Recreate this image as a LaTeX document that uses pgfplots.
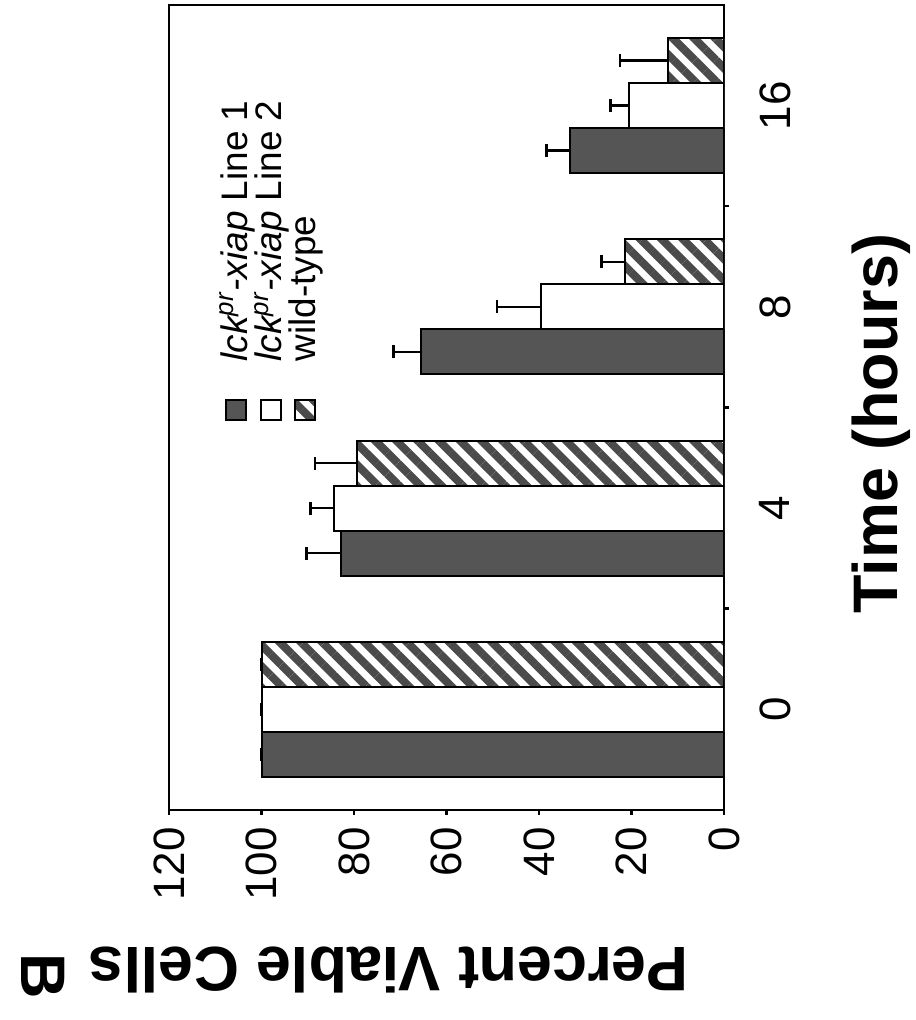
\documentclass[border=0pt]{standalone}
\usepackage{fontspec}
\setmainfont{Liberation Sans}
\usepackage{pgfplots}
\pgfplotsset{compat=1.18}
\usetikzlibrary{patterns.meta}
\definecolor{darkbar}{RGB}{85,85,85}
\definecolor{hatchc}{RGB}{75,75,75}
\pgfplotsset{sqlegend/.style={legend image code/.code={\draw[##1, line width=0.2mm] (0mm,-1mm) rectangle (2mm,1mm); \path (5.8mm,0);}}}
\begin{document}
\begin{tikzpicture}[rotate=90, transform shape]
\useasboundingbox (-21mm,-19.2mm) rectangle (81mm,72.4mm);
\begin{axis}[
  scale only axis, width=80.5mm, height=55.5mm,
  at={(0,0)}, anchor=south west,
  clip mode=individual,
  xmin=-0.5, xmax=3.5, ymin=0, ymax=120,
  ytick={0,20,...,120},
  xtick={0.5,1.5,2.5}, xticklabels={},
  extra x ticks={0,1,2,3}, extra x tick labels={0,4,8,16},
  extra x tick style={major tick length=0pt},
  tick align=outside, tick pos=left, major tick length=0.5mm,
  axis line style={line width=0.25mm},
  tick style={line width=0.25mm, black},
  /pgf/number format/assume math mode=true,
  tick label style={font=\fontsize{12.5}{14}\selectfont},
  xticklabel style={yshift=-2.3mm},
  ybar=0pt, bar width=4.5mm,
  xlabel={Time (hours)}, ylabel={Percent Viable Cells},
  label style={font=\bfseries\fontsize{17.9}{20}\selectfont},
  xlabel style={at={(axis description cs:0.48,-0.283)}, anchor=center},
  ylabel style={at={(axis description cs:-0.199,0.604)}, anchor=center},
  legend cell align=left,
  legend style={at={(axis description cs:0.469,0.923)}, anchor=north west, draw=none, fill=none,
    font=\fontsize{10.5}{11}\selectfont, row sep=0.15mm, nodes={inner sep=0pt, anchor=west}},
  error bars/error bar style={line width=0.25mm, black},
  error bars/error mark options={rotate=90, mark size=0.65mm, line width=0.25mm, black},
]
\addplot[fill=darkbar, draw=black, line width=0.2mm, sqlegend,
  error bars/.cd, y dir=plus, y explicit]
  coordinates {(0,100) +- (0,0) (1,82.8) +- (0,7.5) (2,65.5) +- (0,6) (3,33.4) +- (0,5)};
\addplot[fill=white, draw=black, line width=0.2mm, sqlegend,
  error bars/.cd, y dir=plus, y explicit]
  coordinates {(0,100) +- (0,0) (1,84.4) +- (0,5) (2,39.6) +- (0,9.5) (3,20.5) +- (0,4)};
\addplot[fill=white, draw=black, line width=0.2mm, sqlegend,
  postaction={pattern={Lines[angle=-45, distance=1.5mm, line width=0.8mm]}, pattern color=hatchc},
  error bars/.cd, y dir=plus, y explicit]
  coordinates {(0,100) +- (0,0) (1,79.4) +- (0,9) (2,21.5) +- (0,5) (3,12.2) +- (0,10.3)};
\legend{\textit{lck\textsuperscript{pr}-xiap} Line 1, \textit{lck\textsuperscript{pr}-xiap} Line 2, wild-type}
\node[rotate=180, font=\bfseries\fontsize{17.9}{20}\selectfont] at (axis description cs:-0.207,1.227) {B};
\end{axis}
\end{tikzpicture}
\end{document}
